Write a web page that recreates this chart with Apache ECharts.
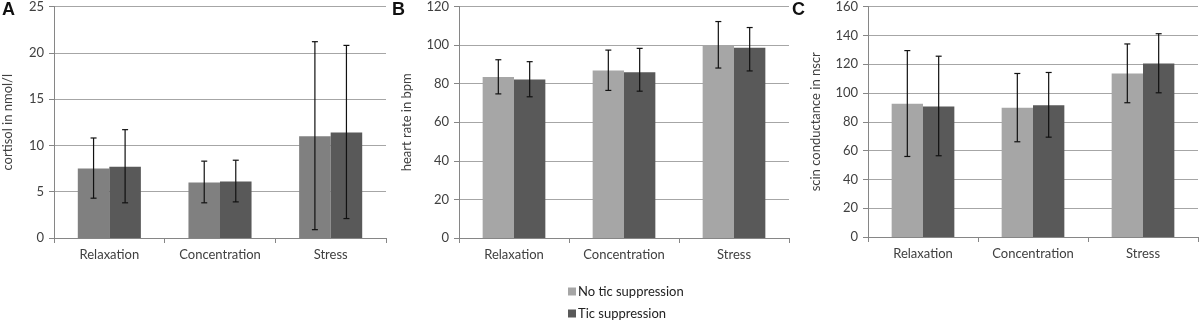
<!DOCTYPE html>
<html>
<head>
<meta charset="utf-8">
<script src="https://cdn.jsdelivr.net/npm/echarts@6/dist/echarts.min.js"></script>
<style>
  html, body { margin: 0; padding: 0; background: #fff; }
  #main { width: 1199px; height: 323px; }
</style>
</head>
<body>
<div id="main"></div>
<script>
// 类别
var categories = ['Relaxation', 'Concentration', 'Stress'];

// A: cortisol
var cortisolNoTic = [7.5, 6.0, 11.0];
var cortisolNoTicLow = [4.3, 3.8, 0.9];
var cortisolNoTicHigh = [10.8, 8.3, 21.2];
var cortisolTic = [7.7, 6.1, 11.4];
var cortisolTicLow = [3.8, 3.9, 2.1];
var cortisolTicHigh = [11.7, 8.4, 20.8];

// B: heart rate
var heartNoTic = [83.5, 86.8, 100];
var heartNoTicLow = [74.7, 76.5, 88.1];
var heartNoTicHigh = [92.4, 97.4, 112.2];
var heartTic = [82.1, 85.9, 98.6];
var heartTicLow = [73.2, 76.1, 86.6];
var heartTicHigh = [91.4, 98.3, 109.1];

// C: skin conductance
var scinNoTic = [92.5, 89.8, 113.5];
var scinNoTicLow = [55.9, 66.1, 93.2];
var scinNoTicHigh = [129.4, 113.5, 134];
var scinTic = [90.5, 91.4, 120.4];
var scinTicLow = [56.4, 69.3, 100.1];
var scinTicHigh = [125.5, 114.2, 141.1];

var seriesNames = ['No tic suppression', 'Tic suppression'];

var FONT = 'Lato';
var TEXT = '#404040';
var GAP = 0.43; // barCategoryGap

// 误差线数据 [类别下标, 下限, 上限]
function errData(low, high) {
    var out = [];
    for (var i = 0; i < low.length; i++) out.push([i, low[i], high[i]]);
    return out;
}

// 误差线，side = -1 左柱, +1 右柱
function errorSeries(idx, low, high, side) {
    return {
        type: 'custom',
        xAxisIndex: idx,
        yAxisIndex: idx,
        z: 10,
        silent: true,
        data: errData(low, high),
        renderItem: function (params, api) {
            var x = api.value(0);
            var lo = api.coord([x, api.value(1)]);
            var hi = api.coord([x, api.value(2)]);
            var band = api.size([1, 0])[0];
            var bw = band * (1 - GAP) / 2;
            var cx = lo[0] + side * bw / 2;
            var cap = 3;
            var st = { stroke: '#111', lineWidth: 1.2 };
            return {
                type: 'group',
                children: [
                    { type: 'line', shape: { x1: cx, y1: lo[1], x2: cx, y2: hi[1] }, style: st },
                    { type: 'line', shape: { x1: cx - cap, y1: lo[1], x2: cx + cap, y2: lo[1] }, style: st },
                    { type: 'line', shape: { x1: cx - cap, y1: hi[1], x2: cx + cap, y2: hi[1] }, style: st }
                ]
            };
        }
    };
}

var grids = [
    { left: 49, right: 813, top: 6, bottom: 85 },
    { left: 459, right: 410, top: 5, bottom: 85 },
    { left: 868, right: 1, top: 5, bottom: 86 }
];
var yNames = ['cortisol in nmol/l', 'heart rate in bpm', 'scin conductance in nscr'];
var yMax = [25, 120, 160];
var yInterval = [5, 20, 20];
var nameGaps = [40, 46, 46];

var xAxes = [], yAxes = [];
for (var i = 0; i < 3; i++) {
    xAxes.push({
        type: 'category',
        gridIndex: i,
        data: categories,
        axisLine: { lineStyle: { color: '#868686', width: 1 } },
        axisTick: { show: true, length: 5, lineStyle: { color: '#868686' } },
        axisLabel: { color: TEXT, fontFamily: FONT, fontSize: 13, margin: 10 }
    });
    yAxes.push({
        type: 'value',
        gridIndex: i,
        min: 0,
        max: yMax[i],
        interval: yInterval[i],
        name: yNames[i],
        nameLocation: 'middle',
        nameGap: nameGaps[i],
        nameTextStyle: { color: TEXT, fontFamily: FONT, fontSize: 13 },
        axisLine: { show: true, lineStyle: { color: '#868686', width: 1 } },
        axisTick: { show: true, length: 5, lineStyle: { color: '#868686' } },
        axisLabel: { color: TEXT, fontFamily: FONT, fontSize: 13, margin: 10 },
        splitLine: { lineStyle: { color: '#a6a6a6', width: 1 } }
    });
}

var lightA = '#808080';
var light = '#a6a6a6';
var dark = '#595959';

function barSeries(idx, name, data, color) {
    return {
        type: 'bar',
        name: name,
        xAxisIndex: idx,
        yAxisIndex: idx,
        data: data,
        barGap: '0%',
        barCategoryGap: (GAP * 100) + '%',
        itemStyle: { color: color },
        silent: true
    };
}

function legendItem(name, color, top) {
    return {
        left: 568,
        top: top,
        padding: 0,
        itemWidth: 8,
        itemHeight: 8,
        icon: 'rect',
        selectedMode: false,
        textStyle: { color: '#222', fontFamily: FONT, fontSize: 13, padding: [0, 0, 0, -3] },
        data: [{ name: name, itemStyle: { color: color } }]
    };
}

var myChart = echarts.init(document.getElementById('main'));
var option = {
    animation: false,
    grid: grids,
    xAxis: xAxes,
    yAxis: yAxes,
    legend: [
        legendItem(seriesNames[0], light, 285),
        legendItem(seriesNames[1], dark, 307)
    ],
    graphic: [
        { type: 'text', left: 2, top: 1, style: { text: 'A', font: 'bold 18px Liberation Sans', fill: '#111' } },
        { type: 'text', left: 392, top: 1, style: { text: 'B', font: 'bold 18px Liberation Sans', fill: '#111' } },
        { type: 'text', left: 792, top: 1, style: { text: 'C', font: 'bold 18px Liberation Sans', fill: '#111' } }
    ],
    series: [
        barSeries(1, seriesNames[0], heartNoTic, light),
        barSeries(1, seriesNames[1], heartTic, dark),
        barSeries(0, seriesNames[0], cortisolNoTic, lightA),
        barSeries(0, seriesNames[1], cortisolTic, dark),
        barSeries(2, seriesNames[0], scinNoTic, light),
        barSeries(2, seriesNames[1], scinTic, dark),
        errorSeries(0, cortisolNoTicLow, cortisolNoTicHigh, -1),
        errorSeries(0, cortisolTicLow, cortisolTicHigh, 1),
        errorSeries(1, heartNoTicLow, heartNoTicHigh, -1),
        errorSeries(1, heartTicLow, heartTicHigh, 1),
        errorSeries(2, scinNoTicLow, scinNoTicHigh, -1),
        errorSeries(2, scinTicLow, scinTicHigh, 1)
    ]
};
myChart.setOption(option, true);
</script>
</body>
</html>
